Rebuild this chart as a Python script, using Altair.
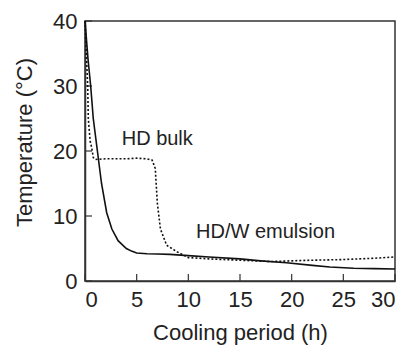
import altair as alt
import pandas as pd

# HD/W emulsion (solid)
solid_t = [0, 0.3, 0.55, 0.8, 1.2, 1.6, 2.1, 2.6, 3.2, 4.0, 4.5, 5.0, 6.0, 7.0, 8.2, 10, 12, 15, 17, 19.5, 22, 23.7, 26, 28, 30]
solid_T = [40, 34, 30, 25, 20, 15, 10.5, 8, 6.2, 5.0, 4.6, 4.3, 4.2, 4.15, 4.1, 3.9, 3.7, 3.4, 3.1, 2.8, 2.4, 2.15, 1.95, 1.9, 1.85]

# HD bulk (dotted)
dotted_t = [0, 0.26, 0.32, 0.5, 0.65, 0.8, 1.0, 2, 3, 4, 5, 6, 6.5, 6.8, 7.0, 7.3, 7.9, 8.9, 10, 12, 15, 18, 20, 22, 25, 28, 30]
dotted_T = [40, 30, 25, 21.5, 20.5, 19.0, 18.7, 18.8, 18.8, 18.8, 18.9, 18.8, 18.6, 17.3, 12, 8, 5.5, 4.5, 3.6, 3.4, 3.2, 3.0, 3.1, 3.2, 3.3, 3.5, 3.7]

x_ticks = [0, 5, 10, 15, 20, 25, 30]
y_ticks = [0, 10, 20, 30, 40]

label_text = ["HD bulk", "HD/W emulsion"]
label_x = [3.55, 10.75]
label_y = [20.9, 6.6]

solid_df = pd.DataFrame({"t": solid_t, "T": solid_T})
dotted_df = pd.DataFrame({"t": dotted_t, "T": dotted_T})
lab_df = pd.DataFrame({"t": label_x, "T": label_y, "text": label_text})
xt_df = pd.DataFrame({"t": x_ticks})
yt_df = pd.DataFrame({"T": y_ticks})

font = "Liberation Sans"
xscale = alt.Scale(domain=[0, 30], nice=False, zero=False)
yscale = alt.Scale(domain=[0, 40], nice=False, zero=False)

xaxis = alt.Axis(values=x_ticks, tickSize=0, labelFontSize=22, labelFont=font, labelColor="#222",
                 labelPadding=8, title="Cooling period (h)", titleFontSize=22, titleFont=font,
                 titleFontWeight="normal", titleColor="#222", titlePadding=12, grid=False,
                 domainColor="#333", domainWidth=1.5)
yaxis = alt.Axis(values=y_ticks, tickSize=0, labelFontSize=22, labelFont=font, labelColor="#222",
                 labelPadding=8, title="Temperature (°C)", titleFontSize=22, titleFont=font,
                 titleFontWeight="normal", titleColor="#222", titlePadding=16, titleY=121, grid=False,
                 domainColor="#333", domainWidth=1.5)

solid = alt.Chart(solid_df).mark_line(color="#111", strokeWidth=1.6).encode(
    x=alt.X("t:Q", scale=xscale, axis=xaxis),
    y=alt.Y("T:Q", scale=yscale, axis=yaxis),
)
dotted = alt.Chart(dotted_df).mark_line(color="#111", strokeWidth=1.6, strokeDash=[2, 2]).encode(
    x=alt.X("t:Q", scale=xscale),
    y=alt.Y("T:Q", scale=yscale),
)
labels = alt.Chart(lab_df).mark_text(align="left", baseline="alphabetic", fontSize=20, font=font, color="#222").encode(
    x=alt.X("t:Q", scale=xscale),
    y=alt.Y("T:Q", scale=yscale),
    text="text:N",
)
xticks = alt.Chart(xt_df).mark_rule(color="#333", strokeWidth=1.2).encode(
    x=alt.X("t:Q", scale=xscale),
    y=alt.value(260),
    y2=alt.value(253),
)
yticks = alt.Chart(yt_df).mark_rule(color="#333", strokeWidth=1.2).encode(
    y=alt.Y("T:Q", scale=yscale),
    x=alt.value(0),
    x2=alt.value(7),
)

chart = alt.layer(xticks, yticks, dotted, solid, labels).properties(
    width=310, height=260,
    background="white",
    autosize=alt.AutoSizeParams(type="none"),
    padding={"left": 77, "top": 13, "right": 5, "bottom": 70},
).configure_view(stroke="#333", strokeWidth=1.5)

chart.save("out.html", embed_options={"renderer": "svg", "actions": False})
